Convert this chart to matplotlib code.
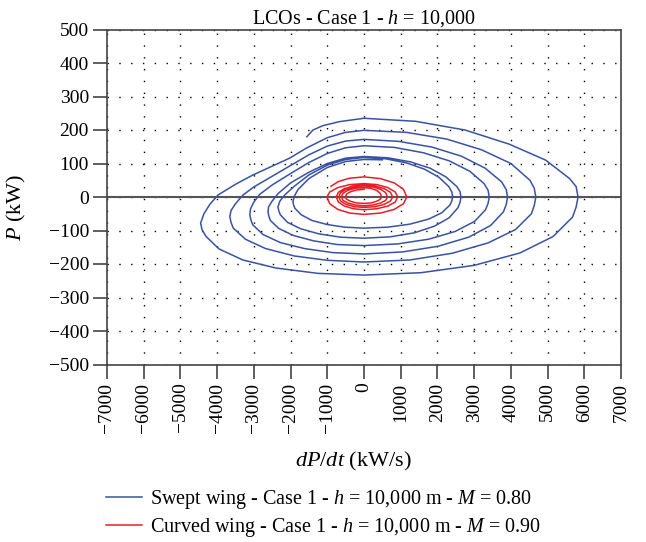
import matplotlib
matplotlib.use("Agg")
import matplotlib.pyplot as plt
from matplotlib.lines import Line2D

plt.rcParams['font.family'] = ['Liberation Serif', 'DejaVu Serif']
plt.rcParams['mathtext.fontset'] = 'custom'
plt.rcParams['mathtext.rm'] = 'Liberation Serif'
plt.rcParams['mathtext.it'] = 'Liberation Serif:italic'

# swept wing, M = 0.80, in time order (inner ring first)
blue_dpdt = [
    # ring 1
    500, 0, -500, -1000, -1500, -1800, -1900, -1935, -1918, -1880, -1710, -1420, -1010, -530, 0,
    650, 1250, 1760, 2120, 2340, 2393, 2415, 2393, 2310, 2040, 1650, 1150, 590, 0,
    # ring 2
    -500, -1000, -1500, -1900, -2160, -2290, -2343, -2322, -2280, -2080, -1720, -1230, -640, 0,
    710, 1370, 1920, 2320, 2560, 2616, 2640, 2616, 2530, 2230, 1800, 1260, 650, 0,
    # ring 3
    -500, -1000, -1500, -2000, -2343, -2520, -2600, -2615, -2592, -2550, -2320, -1920, -1370, -720, 0,
    920, 1760, 2480, 3010, 3310, 3380, 3410, 3380, 3270, 2880, 2320, 1620, 830, 0,
    # ring 4
    -500, -1000, -1500, -2000, -2500, -2840, -3000, -3090, -3110, -3082, -3030, -2750, -2280, -1620, -850, 0,
    1050, 2020, 2850, 3450, 3800, 3875, 3910, 3875, 3750, 3300, 2650, 1850, 950, 0,
    # ring 5
    -500, -1000, -1500, -2000, -2500, -3000, -3295, -3500, -3620, -3655, -3622, -3560, -3230, -2680, -1900,
    -1000, 0, 1250, 2400, 3380, 4130, 4560, 4638, 4680, 4638, 4520, 4000, 3200, 2250, 1150, 0,
    # ring 6 (outer) and the open end
    -500, -1000, -1570, -2025, -2500, -3020, -3500, -3975, -4200, -4360, -4450, -4410, -4300, -3950, -3300,
    -2400, -1250, 0, 1550, 3000, 4250, 5150, 5680, 5778, 5830, 5778, 5600, 4950, 3950, 2750, 1400, 0,
    -665, -1120, -1390, -1555]
blue_p = [
    111, 112, 106, 88, 55, 22, 2, -14, -24, -34, -53, -70, -82, -90, -93,
    -90, -81, -66, -47, -24, -12, 0, 15, 31, 59, 83, 102, 114, 118,
    112, 95, 66, 32, 6, -12, -29, -41, -53, -76, -95, -110, -120, -123,
    -119, -107, -87, -62, -32, -16, 0, 16, 31, 60, 86, 105, 117, 121,
    116, 100, 74, 42, 10, -15, -30, -44, -57, -70, -94, -115, -131, -142, -145,
    -140, -126, -103, -73, -38, -19, 0, 20, 40, 77, 108, 132, 148, 153,
    147, 130, 103, 70, 36, 8, -15, -35, -53, -68, -83, -112, -136, -154, -166, -170,
    -164, -147, -120, -85, -44, -22, 0, 22, 45, 86, 122, 149, 166, 172,
    167, 152, 126, 94, 62, 30, 6, -20, -40, -58, -76, -93, -126, -154, -176,
    -189, -194, -188, -168, -137, -97, -50, -25, 0, 26, 50, 100, 141, 173, 193, 199,
    193, 177, 146, 116, 92, 66, 38, 6, -22, -50, -78, -98, -118, -155, -188,
    -212, -228, -233, -226, -204, -167, -118, -60, -30, 0, 31, 55, 110, 158, 200, 226, 235,
    225, 213, 200, 180]

# curved wing, M = 0.90
red_dpdt = [
    0, -195, -361, -471, -510, -471, -361, -195, 0, 184, 339, 444, 480, 444, 339, 184,
    0, -237, -438, -573, -620, -573, -438, -237, 0, 245, 452, 591, 640, 591, 452, 245,
    0, -264, -488, -638, -690, -638, -488, -264, 0, 299, 551, 721, 780, 721, 551, 299,
    0, -289, -534, -698, -755, -698, -534, -289, 0, 352, 650, 850, 920, 850, 650, 352,
    0, -387, -714, -933, -1010, -933, -714, -387, 0, 446, 824, 1076, 1165, 1076, 824, 446,
    0, -400, -700, -900]
red_p = [
    23, 21, 16, 9, 0, -7, -13, -18, -19, -18, -13, -7, 0, 11, 20, 26,
    28, 26, 20, 11, 0, -10, -18, -24, -26, -24, -18, -10, 0, 13, 23, 30,
    33, 30, 23, 13, 0, -12, -22, -29, -31, -29, -22, -12, 0, 14, 25, 33,
    36, 33, 25, 14, 0, -15, -27, -35, -38, -35, -27, -15, 0, 15, 28, 37,
    40, 37, 28, 15, 0, -20, -37, -48, -52, -48, -37, -20, 0, 23, 42, 55,
    60, 56, 46, 32]

xticks = list(range(-7000, 7001, 1000))
yticks = list(range(-500, 501, 100))
labels = ['Swept wing - Case 1 - $h$ = 10,000 m - $M$ = 0.80',
          'Curved wing - Case 1 - $h$ = 10,000 m - $M$ = 0.90']
blue = '#3953a4'
red = '#ed1c24'
dark = '#444444'

fig = plt.figure(figsize=(6.46, 5.42), dpi=100)
ax = fig.add_axes([107 / 646, 1 - 364.5 / 542, 514 / 646, 335 / 542])

ax.axhline(0, color='#555555', lw=1.5, zorder=1)
ax.plot(blue_dpdt, blue_p, color=blue, lw=1.1, zorder=3)
ax.plot(red_dpdt, red_p, color=red, lw=1.1, zorder=4)

ax.set_xlim(-7000, 7000)
ax.set_ylim(-500, 500)
ax.set_xticks(xticks)
ax.set_yticks(yticks)
ax.tick_params(axis='both', direction='out', length=10, width=1.2, color=dark,
               labelsize=14, pad=3)
ax.tick_params(axis='x', labelrotation=90)
ax.grid(True, color='k', lw=1.0, ls=(0, (1, 7.5)))
ax.set_axisbelow(True)
for s in ax.spines.values():
    s.set_color(dark)
    s.set_linewidth(1.2)

ax.set_title('LCOs - Case 1 - $h$ = 10,000', fontsize=14.5, pad=4)
ax.set_xlabel('$dP/dt$ (kW/s)', fontsize=16)
ax.set_ylabel('$P$ (kW)', fontsize=16)
ax.xaxis.set_label_coords(0.479, -0.255)
ax.yaxis.set_label_coords(-0.154, 0.47)

handles = [Line2D([], [], color=blue, lw=1.1), Line2D([], [], color=red, lw=1.1)]
fig.legend(handles, labels, loc='upper left', bbox_to_anchor=(0.164, 0.1),
           frameon=False, fontsize=14.5, handlelength=1.8, handletextpad=0.4,
           labelspacing=0.25, borderpad=0, borderaxespad=0)
fig.savefig('out.png', dpi=100)
